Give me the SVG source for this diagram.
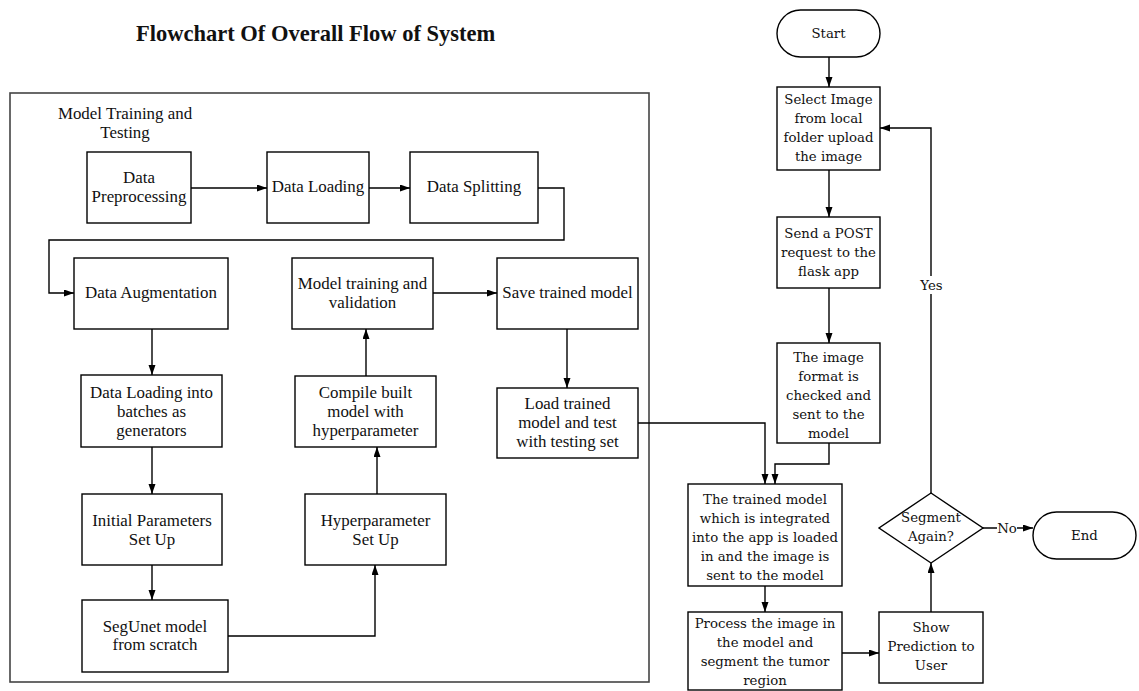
<svg xmlns="http://www.w3.org/2000/svg" width="1139" height="691" viewBox="0 0 1139 691">
<style>
.bx{fill:#fff;stroke:#000;stroke-width:1.4}
.ln{fill:none;stroke:#000;stroke-width:1.4}
.tl{font-family:"Liberation Serif","Times New Roman",serif;font-size:16.9px;fill:#111;text-anchor:middle}
.tr{font-family:"DejaVu Serif",serif;font-size:13.3px;fill:#111;text-anchor:middle}
</style>
<defs>
<marker id="ah" markerUnits="userSpaceOnUse" markerWidth="11" markerHeight="8" refX="10" refY="3.5" orient="auto">
<path d="M0,0 L10,3.5 L0,7 z" fill="#000"/>
</marker>
</defs>
<rect width="1139" height="691" fill="#fff"/>
<text x="136" y="41" style="font-family:'Liberation Serif','Times New Roman',serif;font-size:22.5px;font-weight:bold" fill="#111">Flowchart Of Overall Flow of System</text>

<g id="container">
<rect x="10" y="93" width="639" height="589" fill="none" stroke="#444" stroke-width="1.6"/>
<text class="tl" x="125" y="118.5">Model Training and</text>
<text class="tl" x="125" y="137.5">Testing</text>
</g>

<g id="connectors">
<line class="ln" x1="191" y1="188" x2="267" y2="188" marker-end="url(#ah)"/>
<line class="ln" x1="369" y1="188" x2="410" y2="188" marker-end="url(#ah)"/>
<polyline class="ln" points="538,188 564,188 564,240 49,240 49,293 74,293" marker-end="url(#ah)"/>
<line class="ln" x1="152" y1="329" x2="152" y2="375" marker-end="url(#ah)"/>
<line class="ln" x1="152" y1="447" x2="152" y2="494" marker-end="url(#ah)"/>
<line class="ln" x1="152" y1="565" x2="152" y2="600" marker-end="url(#ah)"/>
<polyline class="ln" points="228,636 375,636 375,565" marker-end="url(#ah)"/>
<line class="ln" x1="377" y1="494" x2="377" y2="447" marker-end="url(#ah)"/>
<line class="ln" x1="366" y1="376" x2="366" y2="329" marker-end="url(#ah)"/>
<line class="ln" x1="433" y1="293" x2="497" y2="293" marker-end="url(#ah)"/>
<line class="ln" x1="567" y1="329" x2="567" y2="388" marker-end="url(#ah)"/>
<polyline class="ln" points="638,423 765,423 765,484" marker-end="url(#ah)"/>
<line class="ln" x1="829" y1="57" x2="829" y2="87" marker-end="url(#ah)"/>
<line class="ln" x1="829" y1="170" x2="829" y2="217" marker-end="url(#ah)"/>
<line class="ln" x1="829" y1="288" x2="829" y2="343" marker-end="url(#ah)"/>
<polyline class="ln" points="829,443 829,464 775,464 775,484" marker-end="url(#ah)"/>
<line class="ln" x1="765" y1="586" x2="765" y2="612" marker-end="url(#ah)"/>
<line class="ln" x1="842" y1="653" x2="879" y2="653" marker-end="url(#ah)"/>
<line class="ln" x1="931" y1="612" x2="931" y2="563" marker-end="url(#ah)"/>
<line class="ln" x1="983" y1="528" x2="1033" y2="528" marker-end="url(#ah)"/>
<polyline class="ln" points="931,493 931,128 880,128" marker-end="url(#ah)"/>
<rect x="917" y="276" width="29" height="18" fill="#fff"/>
<text class="tr" x="931.5" y="289.5">Yes</text>
<rect x="997" y="520" width="20" height="16" fill="#fff"/>
<text class="tr" x="1007" y="532.5">No</text>
</g>

<g id="n-preprocessing">
<rect class="bx" x="87" y="152" width="104" height="71"/>
<text class="tl" x="139" y="182.5">Data</text>
<text class="tl" x="139" y="201.5">Preprocessing</text>
</g>
<g id="n-loading">
<rect class="bx" x="267" y="152" width="102" height="71"/>
<text class="tl" x="318" y="191.5">Data Loading</text>
</g>
<g id="n-splitting">
<rect class="bx" x="410" y="152" width="128" height="71"/>
<text class="tl" x="474" y="191.5">Data Splitting</text>
</g>
<g id="n-augmentation">
<rect class="bx" x="74" y="258" width="154" height="71"/>
<text class="tl" x="151" y="297.5">Data Augmentation</text>
</g>
<g id="n-batches">
<rect class="bx" x="81" y="375" width="141" height="72"/>
<text class="tl" x="151.5" y="397.5">Data Loading into</text>
<text class="tl" x="151.5" y="416.5">batches as</text>
<text class="tl" x="151.5" y="435.5">generators</text>
</g>
<g id="n-initial">
<rect class="bx" x="82" y="494" width="140" height="71"/>
<text class="tl" x="152" y="525.5">Initial Parameters</text>
<text class="tl" x="152" y="544.5">Set Up</text>
</g>
<g id="n-segunet">
<rect class="bx" x="82" y="600" width="146" height="72"/>
<text class="tl" x="155" y="631.5">SegUnet model</text>
<text class="tl" x="155" y="649.5">from scratch</text>
</g>
<g id="n-hyper">
<rect class="bx" x="305" y="494" width="141" height="71"/>
<text class="tl" x="375.5" y="525.5">Hyperparameter</text>
<text class="tl" x="375.5" y="544.5">Set Up</text>
</g>
<g id="n-compile">
<rect class="bx" x="295" y="376" width="141" height="71"/>
<text class="tl" x="365.5" y="397.5">Compile built</text>
<text class="tl" x="365.5" y="416.5">model with</text>
<text class="tl" x="365.5" y="435.5">hyperparameter</text>
</g>
<g id="n-train">
<rect class="bx" x="292" y="258" width="141" height="71"/>
<text class="tl" x="362.5" y="288.5">Model training and</text>
<text class="tl" x="362.5" y="307.5">validation</text>
</g>
<g id="n-save">
<rect class="bx" x="497" y="258" width="141" height="71"/>
<text class="tl" x="567.5" y="297.5">Save trained model</text>
</g>
<g id="n-load">
<rect class="bx" x="497" y="388" width="141" height="70"/>
<text class="tl" x="567.5" y="408.5">Load trained</text>
<text class="tl" x="567.5" y="427.5">model and test</text>
<text class="tl" x="567.5" y="447">with testing set</text>
</g>

<g id="n-start">
<rect class="bx" x="777" y="10" width="103" height="47" rx="23.5"/>
<text class="tr" x="828.5" y="38">Start</text>
</g>
<g id="n-select">
<rect class="bx" x="777" y="87" width="103" height="83"/>
<text class="tr" x="828.5" y="103.5">Select Image</text>
<text class="tr" x="828.5" y="122.5">from local</text>
<text class="tr" x="828.5" y="141.5">folder upload</text>
<text class="tr" x="828.5" y="160.5">the image</text>
</g>
<g id="n-post">
<rect class="bx" x="777" y="217" width="103" height="71"/>
<text class="tr" x="828.5" y="237.5">Send a POST</text>
<text class="tr" x="828.5" y="256.5">request to the</text>
<text class="tr" x="828.5" y="275.5">flask app</text>
</g>
<g id="n-format">
<rect class="bx" x="777" y="343" width="103" height="100"/>
<text class="tr" x="828.5" y="361.5">The image</text>
<text class="tr" x="828.5" y="380.5">format is</text>
<text class="tr" x="828.5" y="399.5">checked and</text>
<text class="tr" x="828.5" y="418.5">sent to the</text>
<text class="tr" x="828.5" y="437.5">model</text>
</g>
<g id="n-integrated">
<rect class="bx" x="688" y="484" width="154" height="102"/>
<text class="tr" x="765" y="503.5">The trained model</text>
<text class="tr" x="765" y="522.5">which is integrated</text>
<text class="tr" x="765" y="541.5">into the app is loaded</text>
<text class="tr" x="765" y="560.5">in and the image is</text>
<text class="tr" x="765" y="579.5">sent to the model</text>
</g>
<g id="n-process">
<rect class="bx" x="688" y="612" width="154" height="78"/>
<text class="tr" x="765" y="627.5">Process the image in</text>
<text class="tr" x="765" y="646.5">the model and</text>
<text class="tr" x="765" y="665.5">segment the tumor</text>
<text class="tr" x="765" y="684.5">region</text>
</g>
<g id="n-show">
<rect class="bx" x="879" y="612" width="104" height="71"/>
<text class="tr" x="931" y="631.5">Show</text>
<text class="tr" x="931" y="650.5">Prediction to</text>
<text class="tr" x="931" y="669.5">User</text>
</g>
<g id="n-decision">
<polygon class="bx" points="931,493 983,528 931,563 879,528"/>
<text class="tr" x="931" y="521.5">Segment</text>
<text class="tr" x="931" y="540.5">Again?</text>
</g>
<g id="n-end">
<rect class="bx" x="1033" y="512" width="103" height="47" rx="23.5"/>
<text class="tr" x="1084.5" y="540">End</text>
</g>
</svg>
